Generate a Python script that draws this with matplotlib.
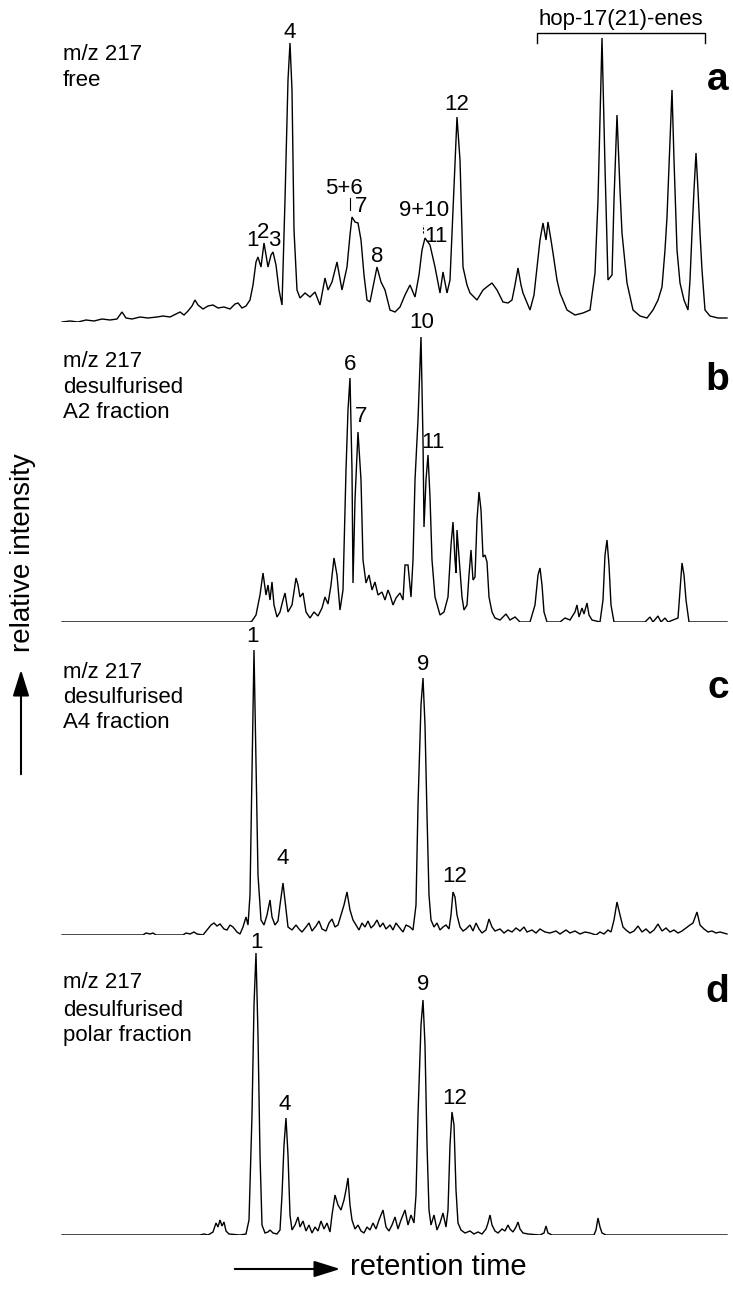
import matplotlib
matplotlib.use("Agg")
import matplotlib.pyplot as plt
from matplotlib.lines import Line2D
from matplotlib.patches import FancyArrowPatch

plt.rcParams['font.family'] = ['Liberation Sans', 'DejaVu Sans']

W, H = 733, 1289

# retention time (arbitrary units) and relative intensity
rt_a = [62, 70, 78, 86, 94, 102, 110, 117, 122, 126, 132, 140, 148, 157, 163, 170, 176, 180, 184, 188,
        192, 195, 198, 203, 208, 213, 218, 224, 230, 235, 238, 242, 246, 250, 253, 256, 258, 261, 264, 268,
        271, 273, 276, 279, 282, 285, 288, 290, 292, 294, 297, 300, 305, 310, 315, 320, 325, 328, 332, 337,
        342, 347, 350, 352, 355, 358, 361, 364, 367, 370, 374, 377, 381, 385, 390, 395, 400, 405, 410, 415,
        419, 422, 425, 430, 435, 440, 443, 447, 450, 452, 455, 457, 460, 463, 467, 470, 477, 483, 488, 492,
        497, 503, 508, 512, 515, 518, 521, 523, 530, 534, 537, 540, 543, 546, 548, 551, 553, 557, 560, 567,
        575, 583, 590, 595, 598, 600, 602, 605, 608, 612, 614, 617, 620, 622, 627, 633, 640, 647, 653, 658,
        662, 665, 667, 670, 672, 674, 677, 680, 684, 688, 690, 692, 694, 696, 698, 700, 702, 705, 710, 718,
        727]
int_a = [0, 1, 0, 2, 1, 3, 2, 3, 10, 4, 3, 5, 4, 5, 6, 5, 8, 10, 7, 11,
         16, 22, 17, 13, 16, 17, 14, 15, 13, 18, 19, 14, 16, 22, 37, 60, 65, 55, 79, 55,
         67, 70, 57, 32, 17, 122, 242, 279, 232, 92, 32, 24, 29, 25, 30, 17, 44, 32, 40, 60,
         32, 55, 87, 105, 100, 99, 82, 47, 22, 20, 40, 55, 40, 32, 12, 10, 15, 27, 37, 25,
         47, 72, 84, 77, 55, 29, 50, 29, 42, 89, 162, 205, 162, 55, 37, 29, 22, 32, 36, 39,
         32, 20, 19, 22, 37, 54, 37, 29, 12, 27, 55, 82, 99, 82, 100, 82, 69, 42, 29, 12,
         7, 9, 12, 49, 122, 202, 284, 155, 42, 47, 122, 207, 132, 89, 39, 12, 6, 4, 12, 22,
         35, 72, 105, 182, 232, 162, 72, 39, 22, 12, 42, 89, 132, 169, 132, 89, 52, 12, 6, 4,
         4]

rt_b = [62, 250, 252, 256, 260, 263, 266, 268, 270, 272, 274, 277, 280, 283, 285, 288, 292, 296, 298, 300,
        303, 306, 310, 314, 318, 322, 325, 328, 331, 334, 337, 340, 343, 346, 348, 350, 352, 353, 355, 358,
        361, 363, 366, 369, 372, 375, 378, 382, 385, 388, 390, 393, 396, 400, 403, 405, 408, 411, 413, 415,
        418, 421, 423, 424, 426, 428, 430, 432, 435, 440, 444, 448, 451, 453, 455, 456, 457, 460, 462, 464,
        467, 469, 471, 473, 475, 477, 479, 481, 483, 485, 487, 489, 492, 495, 500, 506, 510, 515, 520, 530,
        535, 538, 540, 542, 544, 547, 560, 565, 570, 575, 577, 579, 582, 584, 587, 589, 592, 600, 603, 605,
        607, 609, 611, 614, 645, 650, 653, 658, 661, 665, 668, 678, 680, 682, 684, 686, 689, 727]
int_b = [0, 0, 1, 7, 27, 49, 27, 37, 22, 40, 17, 5, 10, 22, 29, 10, 17, 44, 37, 25,
         29, 10, 4, 10, 6, 14, 25, 18, 37, 64, 47, 12, 32, 152, 212, 244, 152, 39, 122, 190,
         142, 62, 39, 47, 32, 40, 27, 30, 22, 32, 27, 17, 24, 29, 22, 57, 57, 25, 62, 142,
         202, 285, 182, 95, 142, 167, 125, 62, 25, 7, 10, 25, 77, 100, 62, 49, 92, 52, 25, 12,
         17, 47, 72, 42, 45, 102, 130, 112, 65, 67, 60, 25, 10, 4, 2, 8, 2, 5, 0, 0,
         17, 47, 54, 37, 10, 0, 0, 4, 2, 10, 17, 5, 14, 8, 19, 7, 2, 0, 22, 67,
         82, 57, 17, 0, 0, 5, 0, 6, 0, 4, 0, 4, 32, 59, 47, 22, 0, 0]

rt_c = [62, 143, 146, 150, 153, 156, 183, 186, 190, 194, 197, 203, 207, 211, 214, 217, 220, 224, 227, 230,
        233, 237, 240, 243, 246, 248, 250, 252, 254, 256, 258, 261, 264, 267, 270, 272, 275, 278, 280, 283,
        286, 288, 292, 296, 299, 302, 306, 309, 312, 316, 319, 322, 326, 329, 332, 335, 338, 341, 344, 347,
        350, 353, 356, 359, 362, 365, 368, 371, 374, 377, 380, 383, 386, 390, 393, 396, 399, 403, 406, 410,
        413, 416, 418, 421, 423, 425, 427, 429, 431, 434, 437, 440, 443, 446, 449, 451, 453, 455, 457, 460,
        463, 466, 470, 473, 476, 479, 482, 486, 489, 492, 495, 500, 504, 508, 512, 516, 520, 524, 527, 532,
        536, 540, 545, 550, 556, 560, 566, 570, 575, 580, 585, 590, 596, 600, 604, 608, 611, 614, 617, 620,
        623, 626, 630, 634, 638, 642, 646, 650, 654, 658, 662, 666, 670, 674, 678, 682, 686, 690, 693, 697,
        700, 704, 708, 712, 716, 720, 727]
int_c = [0, 0, 2, 1, 2, 0, 0, 2, 1, 3, 1, 0, 5, 10, 12, 9, 11, 6, 5, 10,
         8, 3, 1, 8, 18, 10, 40, 160, 285, 170, 60, 15, 10, 20, 35, 18, 10, 14, 30, 52,
         25, 8, 5, 10, 6, 3, 8, 12, 4, 9, 14, 6, 4, 12, 16, 8, 10, 20, 30, 43,
         25, 15, 10, 5, 12, 8, 14, 7, 10, 15, 8, 12, 6, 10, 5, 12, 8, 3, 10, 8,
         5, 30, 130, 230, 257, 210, 120, 40, 15, 8, 12, 5, 8, 10, 6, 20, 43, 38, 20, 8,
         4, 6, 10, 4, 12, 6, 2, 5, 16, 8, 4, 6, 2, 5, 3, 7, 4, 8, 3, 5,
         2, 6, 3, 2, 4, 1, 5, 2, 4, 1, 3, 2, 0, 3, 1, 5, 3, 15, 33, 20,
         8, 5, 2, 4, 9, 3, 6, 2, 5, 11, 4, 7, 3, 5, 2, 4, 7, 10, 12, 23,
         10, 6, 3, 4, 2, 3, 1]

rt_d = [62, 200, 204, 208, 213, 216, 218, 220, 222, 224, 226, 229, 240, 246, 249, 252, 254, 256, 258, 260,
        262, 265, 268, 270, 273, 277, 280, 282, 284, 286, 288, 290, 292, 295, 298, 300, 303, 306, 309, 312,
        315, 318, 321, 324, 327, 330, 332, 335, 338, 341, 344, 346, 348, 350, 352, 355, 358, 361, 364, 367,
        370, 373, 376, 379, 383, 386, 389, 392, 395, 398, 401, 405, 408, 411, 414, 416, 418, 421, 423, 425,
        427, 429, 431, 434, 437, 440, 443, 446, 448, 450, 452, 454, 456, 458, 461, 465, 470, 474, 478, 482,
        486, 488, 490, 492, 495, 498, 502, 505, 508, 510, 513, 516, 518, 520, 523, 528, 540, 544, 546, 548,
        552, 594, 596, 598, 600, 602, 606, 727]
int_d = [0, 0, 1, 0, 3, 12, 8, 15, 9, 13, 4, 1, 0, 1, 15, 120, 230, 282, 200, 80,
         10, 2, 3, 5, 2, 1, 5, 40, 90, 117, 80, 20, 5, 10, 18, 8, 14, 4, 10, 2,
         8, 4, 14, 6, 12, 3, 20, 40, 30, 25, 35, 45, 57, 30, 15, 6, 10, 4, 2, 8,
         5, 12, 6, 15, 25, 8, 4, 10, 18, 6, 15, 25, 10, 20, 12, 40, 120, 210, 235, 190,
         90, 25, 10, 20, 5, 12, 22, 8, 25, 90, 123, 110, 45, 12, 5, 2, 4, 1, 3, 1,
         6, 12, 20, 10, 4, 2, 6, 4, 10, 6, 3, 8, 13, 6, 2, 1, 0, 2, 9, 2,
         0, 0, 5, 17, 8, 2, 0, 0]

panel_letters = ['a', 'b', 'c', 'd']
panel_titles = [['m/z 217', 'free'],
                ['m/z 217', 'desulfurised', 'A2 fraction'],
                ['m/z 217', 'desulfurised', 'A4 fraction'],
                ['m/z 217', 'desulfurised', 'polar fraction']]

# peak labels: (text, rt, intensity)
peaks_a = [('4', 290, 290), ('1', 252, 81), ('2', 263, 90), ('3', 274, 81), ('5+6', 344, 134),
           ('7', 361, 115), ('8', 377, 65), ('9+10', 424, 112), ('11', 436, 85), ('12', 457, 217)]
peaks_b = [('6', 350, 258), ('7', 361, 206), ('10', 422, 299), ('11', 433, 180)]
peaks_c = [('1', 253, 298), ('4', 283, 77), ('9', 423, 271), ('12', 455, 58)]
peaks_d = [('1', 256, 293), ('4', 285, 131), ('9', 423, 250), ('12', 455, 136)]

# pixel layout of each panel: baseline row, label rows, letter baseline
baselines = [322, 622, 935, 1235]
title_rows = [[55, 81], [362, 388, 413], [672, 697, 722], [983, 1010, 1036]]
letter_rows = [90, 390, 698, 1002]


def fx(x):
    return x / W


def fy(y):
    return 1 - y / H


fig = plt.figure(figsize=(W / 100, H / 100), dpi=100)

traces = [(rt_a, int_a), (rt_b, int_b), (rt_c, int_c), (rt_d, int_d)]
labels = [peaks_a, peaks_b, peaks_c, peaks_d]
axes = []
for i, (rt, inten) in enumerate(traces):
    yb = baselines[i]
    ax = fig.add_axes([0, fy(yb), 1, 300 / H])
    ax.set_xlim(0, W)
    ax.set_ylim(0, 300)
    ax.patch.set_alpha(0)
    ax.axis('off')
    ax.plot(rt, inten, color='black', lw=1.0, solid_joinstyle='miter')
    for txt, x, y in labels[i]:
        ax.text(x, y, txt, ha='center', va='center', fontsize=16)
    for j, line in enumerate(panel_titles[i]):
        fig.text(fx(63), fy(title_rows[i][j]), line, ha='left', va='center', fontsize=16)
    fig.text(fx(729), fy(letter_rows[i]), panel_letters[i], ha='right', va='baseline',
             fontsize=28, fontweight='bold')
    axes.append(ax)

# small tick marks under the co-elution labels in panel a
axes[0].plot([350, 350], [112, 124], color='black', lw=0.8)
axes[0].plot([423, 423], [89, 97], color='black', lw=0.8, ls=(0, (2, 1.5)))

# hopene bracket
fig.add_artist(Line2D([fx(537), fx(537), fx(705), fx(705)], [fy(43), fy(33), fy(33), fy(43)],
                      color='black', lw=1.0))
fig.text(fx(621), fy(19), 'hop-17(21)-enes', ha='center', va='center', fontsize=16)

# axis arrows
fig.add_artist(FancyArrowPatch((fx(21), fy(777)), (fx(21), fy(667)), transform=fig.transFigure,
                               arrowstyle='-|>,head_length=0.8,head_width=0.25', mutation_scale=20,
                               color='black', lw=1.5))
fig.text(fx(23), fy(553), 'relative intensity', rotation=90, ha='center', va='center', fontsize=20)
fig.add_artist(FancyArrowPatch((fx(232), fy(1269)), (fx(343), fy(1269)), transform=fig.transFigure,
                               arrowstyle='-|>,head_length=0.8,head_width=0.25', mutation_scale=20,
                               color='black', lw=1.5))
fig.text(fx(350), fy(1267), 'retention time', ha='left', va='center', fontsize=21)

fig.savefig('out.png', dpi=100)
